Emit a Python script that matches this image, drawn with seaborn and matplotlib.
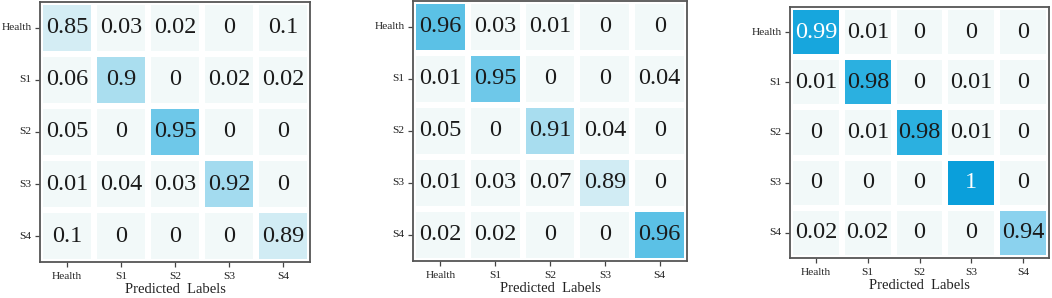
import matplotlib
matplotlib.use("Agg")
import matplotlib.pyplot as plt
import numpy as np
import pandas as pd
import seaborn as sns
from matplotlib.colors import LinearSegmentedColormap

labels = ["Health", "S1", "S2", "S3", "S4"]

cm_a = [
    [0.85, 0.03, 0.02, 0, 0.1],
    [0.06, 0.9, 0, 0.02, 0.02],
    [0.05, 0, 0.95, 0, 0],
    [0.01, 0.04, 0.03, 0.92, 0],
    [0.1, 0, 0, 0, 0.89],
]
cm_b = [
    [0.96, 0.03, 0.01, 0, 0],
    [0.01, 0.95, 0, 0, 0.04],
    [0.05, 0, 0.91, 0.04, 0],
    [0.01, 0.03, 0.07, 0.89, 0],
    [0.02, 0.02, 0, 0, 0.96],
]
cm_c = [
    [0.99, 0.01, 0, 0, 0],
    [0.01, 0.98, 0, 0.01, 0],
    [0, 0.01, 0.98, 0.01, 0],
    [0, 0, 0, 1, 0],
    [0.02, 0.02, 0, 0, 0.94],
]

# colour ramp: pale cyan-white for small values, rising to a strong blue near 1
cmap = LinearSegmentedColormap.from_list(
    "cm_blue",
    [
        (0.0, "#f2f9f9"),
        (0.80, "#eef8f9"),
        (0.85, "#d4edf4"),
        (0.89, "#d2ecf4"),
        (0.90, "#abdeef"),
        (0.92, "#a5dcef"),
        (0.94, "#8ed3ee"),
        (0.955, "#69c6e8"),
        (0.98, "#2cb0e0"),
        (1.0, "#0a9fdb"),
    ],
)

sns.set_theme(style="ticks")
plt.rcParams.update(
    {
        "font.family": ["Liberation Serif", "DejaVu Serif"],
        "xtick.color": "#444444",
        "ytick.color": "#444444",
        "xtick.labelcolor": "#222222",
        "ytick.labelcolor": "#222222",
        "xtick.major.size": 3.5,
        "ytick.major.size": 3.5,
        "xtick.major.width": 0.9,
        "ytick.major.width": 0.9,
        "xtick.major.pad": 3.5,
        "ytick.major.pad": 2.5,
    }
)

fig = plt.figure(figsize=(10.52, 2.98), dpi=100)
positions = [
    [0.0380, 0.1208, 0.2567, 0.8725],
    [0.3926, 0.1242, 0.2605, 0.8725],
    [0.7510, 0.1342, 0.2462, 0.8423],
]

for mat, pos in zip([cm_a, cm_b, cm_c], positions):
    ax = fig.add_axes(pos)
    df = pd.DataFrame(mat, index=labels, columns=labels)
    sns.heatmap(
        df,
        ax=ax,
        cmap=cmap,
        vmin=0,
        vmax=1,
        annot=True,
        fmt="g",
        annot_kws={"fontsize": 17.5, "color": "#1a1a1a"},
        linewidths=3,
        linecolor="white",
        cbar=False,
        square=False,
    )
    for t in ax.texts:
        if float(t.get_text()) >= 0.99:
            t.set_color("white")
    for s in ax.spines.values():
        s.set_visible(True)
        s.set_color("#555555")
        s.set_linewidth(1.3)
    ax.tick_params(axis="both", labelsize=8.2)
    ax.set_yticklabels(labels, rotation=0)
    ax.set_xticklabels(labels, rotation=0)
    ax.set_xlabel("Predicted  Labels", fontsize=10.5, labelpad=1.5, color="#222222")
    ax.set_ylabel("")

fig.savefig("out.png", dpi=100)
